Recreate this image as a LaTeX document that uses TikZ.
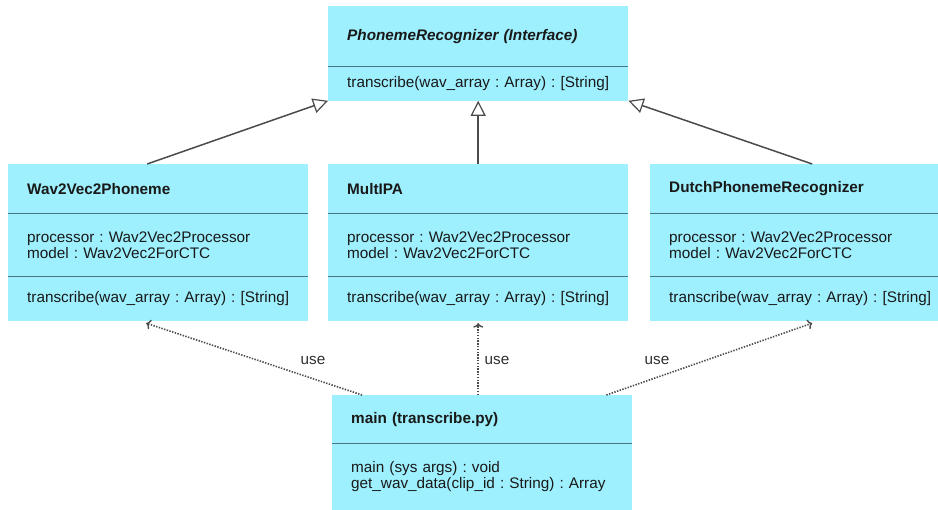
\documentclass[tikz,border=0pt]{standalone}
\usepackage{fontspec}
\setmainfont{Liberation Sans}
\frenchspacing
\usetikzlibrary{positioning,arrows.meta}
\definecolor{umlCyan}{RGB}{158,240,254}
\definecolor{umlDivider}{RGB}{70,118,128}
\definecolor{umlArrow}{RGB}{75,75,75}

\begin{document}
\begin{tikzpicture}[x=1pt, y=1pt,
    compart/.style={fill=umlCyan, text=black!90, text width=262pt, inner xsep=19pt, inner ysep=0pt,
        align=left, font=\fontsize{15.3}{16.5}\selectfont},
    divider/.style={draw=umlDivider, line width=1pt},
    inherits/.style={draw=umlArrow, line width=1.5pt, -{Triangle[open, length=15pt, width=15pt, line width=1.2pt]}},
    uses/.style={draw=umlArrow, line width=1.6pt, dash pattern=on 1.4pt off 1.4pt, -{To[length=4.5pt, width=10pt, line width=1.4pt]}},
    uselabel/.style={font=\fontsize{15.3}{16.5}\selectfont, text=black!82}]
    \useasboundingbox (0,0) rectangle (938,510);

    % interface
    \node[compart, minimum height=60pt, anchor=north west] (topT) at (328,504) {\textbf{\textit{PhonemeRecognizer (Interface)}}};
    \node[compart, minimum height=34pt, below=0pt of topT] (topM) {transcribe(wav\_array : Array) : [String]};

    % implementations
    \node[compart, minimum height=49pt, anchor=north west] (w2vT) at (8,346) {\textbf{Wav2Vec2Phoneme}};
    \node[compart, minimum height=63pt, below=0pt of w2vT] (w2vA) {processor : Wav2Vec2Processor\\model : Wav2Vec2ForCTC};
    \node[compart, minimum height=44pt, below=0pt of w2vA] (w2vM) {transcribe(wav\_array : Array) : [String]};

    \node[compart, minimum height=49pt, anchor=north west] (ipaT) at (328,346) {\textbf{MultIPA}};
    \node[compart, minimum height=63pt, below=0pt of ipaT] (ipaA) {processor : Wav2Vec2Processor\\model : Wav2Vec2ForCTC};
    \node[compart, minimum height=44pt, below=0pt of ipaA] (ipaM) {transcribe(wav\_array : Array) : [String]};

    \node[compart, minimum height=49pt, anchor=north west] (dprT) at (650,346) {\textbf{DutchPhonemeRecognizer}};
    \node[compart, minimum height=63pt, below=0pt of dprT] (dprA) {processor : Wav2Vec2Processor\\model : Wav2Vec2ForCTC};
    \node[compart, minimum height=44pt, below=0pt of dprA] (dprM) {transcribe(wav\_array : Array) : [String]};

    % main script
    \node[compart, minimum height=48pt, anchor=north west] (mainT) at (332,115) {\textbf{main (transcribe.py)}};
    \node[compart, minimum height=66pt, below=0pt of mainT] (mainM) {main (sys args) : void\\get\_wav\_data(clip\_id : String) : Array};

    % compartment lines
    \draw[divider] (topT.south west) -- (topT.south east);
    \draw[divider] (w2vT.south west) -- (w2vT.south east);
    \draw[divider] (w2vA.south west) -- (w2vA.south east);
    \draw[divider] (ipaT.south west) -- (ipaT.south east);
    \draw[divider] (ipaA.south west) -- (ipaA.south east);
    \draw[divider] (dprT.south west) -- (dprT.south east);
    \draw[divider] (dprA.south west) -- (dprA.south east);
    \draw[divider] (mainT.south west) -- (mainT.south east);

    % realisation arrows
    \draw[inherits] ([xshift=-11pt]w2vT.north) -- (topM.south west);
    \draw[inherits] (ipaT.north) -- (topM.south);
    \draw[inherits] ([xshift=12pt]dprT.north) -- (topM.south east);

    % use arrows
    \draw[uses] ([xshift=30pt]mainT.north west) -- ([xshift=-12pt,yshift=-2pt]w2vM.south);
    \draw[uses] (mainT.north -| ipaM.south) -- ([yshift=-2pt]ipaM.south);
    \draw[uses] ([xshift=-26pt]mainT.north east) -- ([xshift=12pt,yshift=-2pt]dprM.south);

    \node[uselabel] (useL) at (313,150) {use};
    \node[uselabel] (useM) at (497,150) {use};
    \node[uselabel] (useR) at (657,150) {use};
\end{tikzpicture}
\end{document}
